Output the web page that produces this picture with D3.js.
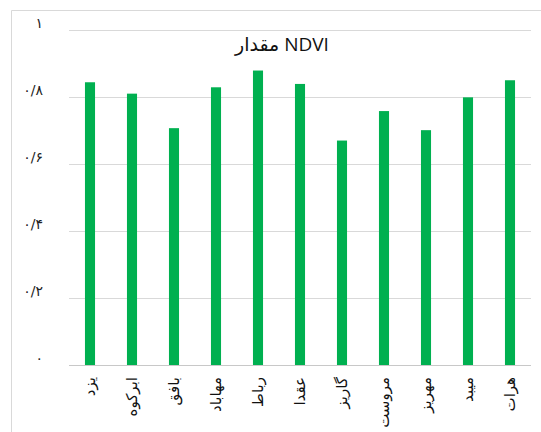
<!DOCTYPE html>
<meta charset="utf-8">
<script src="https://d3js.org/d3.v7.min.js"></script>
<style>
  body { margin: 0; background: #fff; }
  svg { font-family: "DejaVu Sans", sans-serif; }
</style>
<div id="chart"></div>
<script>
// data
var cities = ["یزد", "ابرکوه", "بافق", "مهاباد", "رباط", "عقدا", "گاریز", "مروست", "مهریز", "میبد", "هرات"];
var ndvi = [0.844, 0.810, 0.707, 0.829, 0.879, 0.839, 0.670, 0.758, 0.701, 0.799, 0.850];
var yTicks = [0, 0.2, 0.4, 0.6, 0.8, 1];
var yTickLabels = ["۰", "۰/۲", "۰/۴", "۰/۶", "۰/۸", "۱"];
var title = "مقدار NDVI";

var W = 541, H = 432;
var plot = {left: 69, right: 531, top: 30, bottom: 365};

var svg = d3.select("#chart").append("svg")
    .attr("width", W)
    .attr("height", H);

// chart frame (only top and left edges are visible)
svg.append("path")
    .attr("d", "M11.5,432V10.5H541")
    .attr("fill", "none")
    .attr("stroke", "#d9d9d9")
    .attr("stroke-width", 1);

var x = d3.scaleBand()
    .domain(cities)
    .range([plot.left, plot.right])
    .paddingInner(0.76)
    .paddingOuter(0.38);

var y = d3.scaleLinear()
    .domain([0, 1])
    .range([plot.bottom, plot.top]);

// gridlines
svg.append("g")
  .selectAll("line")
  .data(yTicks)
  .join("line")
    .attr("x1", plot.left)
    .attr("x2", plot.right)
    .attr("y1", function(d) { return Math.round(y(d)) + 0.5; })
    .attr("y2", function(d) { return Math.round(y(d)) + 0.5; })
    .attr("stroke", function(d) { return d === 0 ? "#c8c8c8" : "#d9d9d9"; })
    .attr("stroke-width", 1);

// y tick labels
svg.append("g")
  .selectAll("text")
  .data(yTicks)
  .join("text")
    .attr("x", 43)
    .attr("y", function(d) { return y(d) - 2; })
    .attr("text-anchor", "end")
    .attr("font-size", 14)
    .attr("fill", "#222")
    .text(function(d, i) { return yTickLabels[i]; });

// bars
svg.append("g")
  .selectAll("rect")
  .data(ndvi)
  .join("rect")
    .attr("x", function(d, i) { return x(cities[i]); })
    .attr("y", function(d) { return y(d); })
    .attr("width", x.bandwidth())
    .attr("height", function(d) { return y(0) - y(d); })
    .attr("fill", "#00b050");

// category labels, rotated
svg.append("g")
  .selectAll("text")
  .data(cities)
  .join("text")
    .attr("transform", function(d) {
      return "translate(" + (x(d) + x.bandwidth() / 2) + ",377) rotate(-90)";
    })
    .attr("text-anchor", "end")
    .attr("dy", "0.35em")
    .attr("font-size", 15)
    .attr("fill", "#111")
    .text(function(d) { return d; });

// title
svg.append("text")
    .attr("x", 282)
    .attr("y", 51)
    .attr("text-anchor", "middle")
    .attr("font-family", "'Open Sans', 'DejaVu Sans', sans-serif")
    .attr("font-size", 19)
    .attr("fill", "#111")
    .text(title);
</script>
